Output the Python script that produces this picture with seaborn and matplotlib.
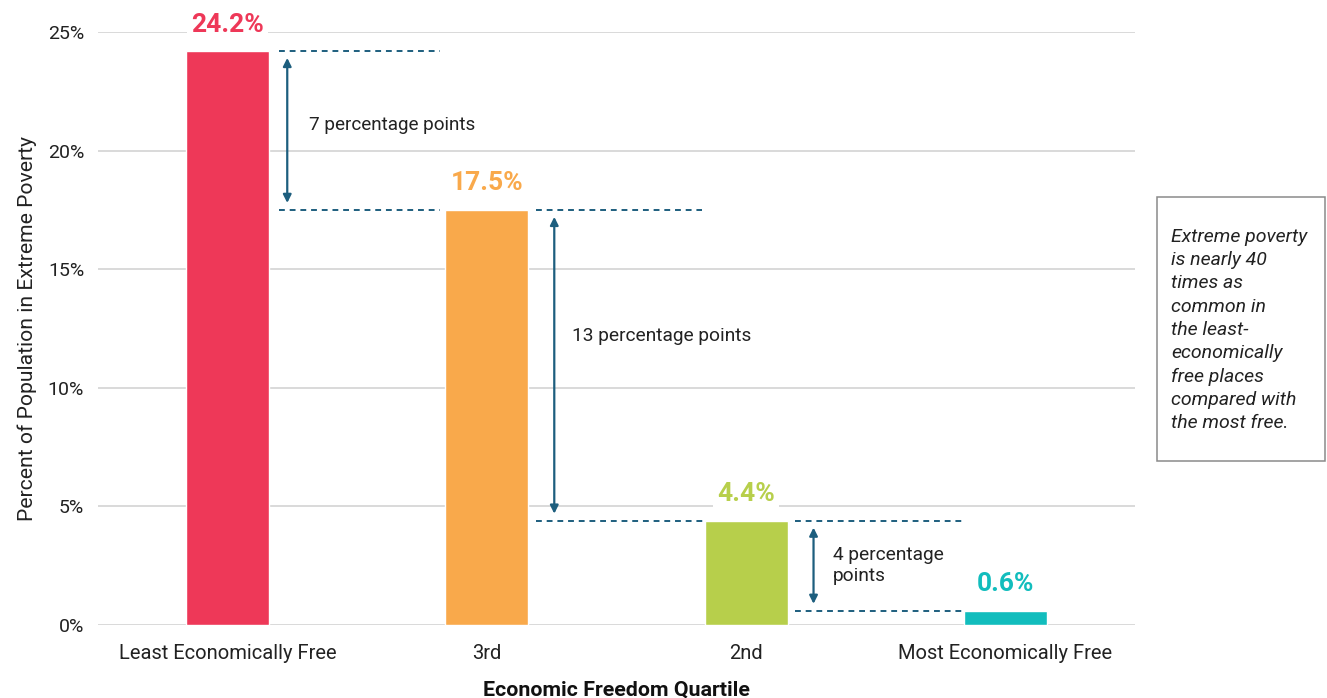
import matplotlib
matplotlib.use("Agg")
import matplotlib.pyplot as plt
import seaborn as sns
from matplotlib.patches import Rectangle

categories = ["Least Economically Free", "3rd", "2nd", "Most Economically Free"]
values = [24.2, 17.5, 4.4, 0.6]
value_labels = ["24.2%", "17.5%", "4.4%", "0.6%"]
colors = ["#EE3858", "#F9A94B", "#B7CF4B", "#12BDBD"]
yticks = [0, 5, 10, 15, 20, 25]
ytick_labels = ["0%", "5%", "10%", "15%", "20%", "25%"]
gap_labels = ["7 percentage points", "13 percentage points", "4 percentage\npoints"]
note = "Extreme poverty\nis nearly 40\ntimes as\ncommon in\nthe least-\neconomically\nfree places\ncompared with\nthe most free."

sns.set_theme(style="white")
plt.rcParams["font.family"] = ["Roboto", "DejaVu Sans"]

W, H = 1327, 698
fig = plt.figure(figsize=(W / 100, H / 100), dpi=100)
ax = fig.add_axes([98 / W, (H - 625) / H, (1135 - 98) / W, (625 - 32) / H])

sns.barplot(x=categories, y=values, hue=categories, palette=colors, width=0.32,
            dodge=False, legend=False, saturation=1, ax=ax, zorder=3)

ax.set_ylim(0, 25)
ax.set_xlim(-0.5, 3.5)
ax.set_yticks(yticks)
ax.set_yticklabels(ytick_labels, fontsize=14, color="#222222")
ax.tick_params(axis="x", labelsize=14.5, colors="#222222", length=0, pad=14)
ax.tick_params(axis="y", length=0, pad=10)
for lab in ax.get_xticklabels():
    lab.set_color("#222222")
ax.yaxis.grid(True, color="#d9d9d9", linewidth=1.4, zorder=0)
ax.xaxis.grid(False)
ax.set_axisbelow(True)
for s in ax.spines.values():
    s.set_visible(False)

ax.set_xlabel("Economic Freedom Quartile", fontsize=15.4, fontweight="bold", color="#111111", labelpad=12)
ax.set_ylabel("Percent of Population in Extreme Poverty", fontsize=15.2, color="#222222", labelpad=8)

# value labels
for i, (v, t, c) in enumerate(zip(values, value_labels, colors)):
    ax.annotate(t, xy=(i, v), xytext=(0, 14), textcoords="offset points",
                ha="center", va="baseline", fontsize=19, fontweight="bold", color=c,
                bbox=dict(boxstyle="square,pad=0.15", fc="white", ec="none"),
                zorder=5, annotation_clip=False)

line_c = "#1D5E7E"
dash = dict(color=line_c, linewidth=1.4, linestyle=(0, (3, 2.5)), zorder=4)
# dashed reference lines
ax.plot([0.20, 0.82], [values[0], values[0]], **dash)
ax.plot([0.20, 0.82], [values[1], values[1]], **dash)
ax.plot([1.19, 1.83], [values[1], values[1]], **dash)
ax.plot([1.19, 1.85], [values[2], values[2]], **dash)
ax.plot([2.19, 2.84], [values[2], values[2]], **dash)
ax.plot([2.19, 2.84], [values[3], values[3]], **dash)

# arrows
arrow_x = [0.23, 1.26, 2.26]
for k, ax_x in enumerate(arrow_x):
    top, bot = values[k], values[k + 1]
    ax.annotate("", xy=(ax_x, bot), xytext=(ax_x, top),
                arrowprops=dict(arrowstyle="<|-|>", color=line_c, lw=1.6,
                                mutation_scale=12, shrinkA=5, shrinkB=5), zorder=4)

ax.text(0.315, 21.1, gap_labels[0], fontsize=13.6, color="#222222", va="center", ha="left")
ax.text(1.33, 12.2, gap_labels[1], fontsize=13.8, color="#222222", va="center", ha="left")
ax.text(2.335, 2.5, gap_labels[2], fontsize=13.8, color="#222222", va="center", ha="left",
        linespacing=1.25)

# note box
fig.patches.append(Rectangle((1157 / W, (H - 461) / H), 168 / W, 264 / H,
                             transform=fig.transFigure, fill=False,
                             edgecolor="#8a8a8a", linewidth=1.1))
fig.text(1171 / W, (H - 330) / H, note, fontsize=14, style="italic", color="#222222",
         va="center", ha="left", linespacing=1.38)

fig.savefig("out.png", dpi=100)
